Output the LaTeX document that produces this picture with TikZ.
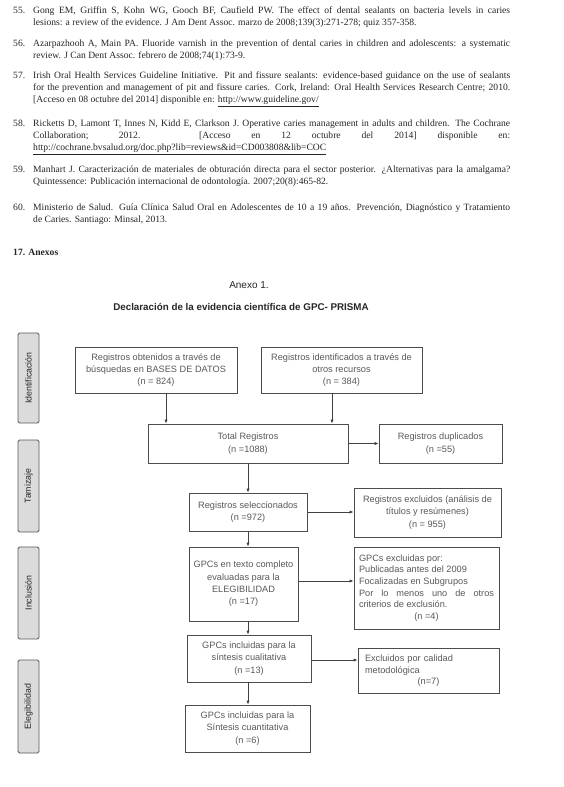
\documentclass[tikz,border=0pt]{standalone}
\usepackage{fontspec}
\setmainfont{Liberation Serif}
\setsansfont{Liberation Sans}
\usetikzlibrary{arrows.meta,calc}
\begin{document}
\begin{tikzpicture}[x=1pt,y=-1pt,
  refnum/.style={anchor=base west, inner sep=0pt, font=\fontsize{9.6}{12.3}\selectfont, text=black!85},
  reftext/.style={anchor=base west, inner sep=0pt, text width=477pt, align=justify, font=\fontsize{9.6}{12.3}\selectfont, text=black!85},
  box/.style={draw=black!70, line width=0.8pt, align=center, font=\sffamily\fontsize{9.2}{12.3}\selectfont, text=black!65, inner sep=2pt},
  side/.style={draw=black!65, fill=black!14, rounded corners=1.5pt, line width=0.8pt, minimum height=21pt, rotate=90, font=\sffamily\fontsize{8.8}{9}\selectfont, text=black!85},
  arr/.style={draw=black!75, line width=0.7pt, -{Latex[length=4pt,width=3.2pt]}},
  ttl/.style={font=\sffamily\fontsize{10}{12}\selectfont, text=black!85, inner sep=0pt},
]
\useasboundingbox[fill=white] (0,0) rectangle (564,787);

% references
\node[refnum] (n55) at (13,13.3) {55.};
\node[reftext] (r55) at (33,13.3) {Gong EM, Griffin S, Kohn WG, Gooch BF, Caufield PW. The effect of dental sealants on bacteria levels in caries\linebreak{} lesions: a review of the evidence. J Am Dent Assoc. marzo de 2008;139(3):271-278; quiz 357-358.};
\node[refnum] (n56) at (13,46.3) {56.};
\node[reftext] (r56) at (33,46.3) {Azarpazhooh A, Main PA. Fluoride varnish in the prevention of dental caries in children and adolescents: a systematic\linebreak{} review. J Can Dent Assoc. febrero de 2008;74(1):73-9.};
\node[refnum] (n57) at (13,78.3) {57.};
\node[reftext] (r57) at (33,78.3) {Irish Oral Health Services Guideline Initiative. Pit and fissure sealants: evidence-based guidance on the use of sealants\linebreak{} for the prevention and management of pit and fissure caries. Cork, Ireland: Oral Health Services Research Centre; 2010.\linebreak{} {[Acceso en 08 octubre del 2014]} disponible en: \underline{http://www.guideline.gov/}};
\node[refnum] (n58) at (13,126.3) {58.};
\node[reftext] (r58) at (33,126.3) {Ricketts D, Lamont T, Innes N, Kidd E, Clarkson J. Operative caries management in adults and children. The Cochrane\linebreak{} Collaboration; 2012. {[Acceso en 12 octubre del 2014]} disponible en:\linebreak{} \underline{http://cochrane.bvsalud.org/doc.php?lib=reviews\&id=CD003808\&lib=COC}};
\node[refnum] (n59) at (13,172.3) {59.};
\node[reftext] (r59) at (33,172.3) {Manhart J. Caracterización de materiales de obturación directa para el sector posterior. ¿Alternativas para la amalgama?\linebreak{} Quintessence: Publicación internacional de odontología. 2007;20(8):465-82.};
\node[refnum] (n60) at (13,210.3) {60.};
\node[reftext] (r60) at (33,210.3) {Ministerio de Salud. Guía Clínica Salud Oral en Adolescentes de 10 a 19 años. Prevención, Diagnóstico y Tratamiento\linebreak{} de Caries. Santiago: Minsal, 2013.};
\node[refnum, font=\bfseries\fontsize{9.6}{12.3}\selectfont] (anx) at (13,255.3) {17. Anexos};

% titles
\node[ttl] (t1) at (249,285) {Anexo 1.};
\node[ttl, font=\sffamily\bfseries\fontsize{9.8}{12}\selectfont] (t2) at (241,307) {Declaración de la evidencia científica de GPC- PRISMA};

% side labels
\node[side, minimum width=90pt] (s1) at (28.5,378) {Identificación};
\node[side, minimum width=92pt] (s2) at (28.5,486) {Tamizaje};
\node[side, minimum width=92pt] (s3) at (28.5,593) {Inclusión};
\node[side, minimum width=93pt] (s4) at (28.5,706.5) {Elegibilidad};

% boxes
\node[box, minimum width=162pt, minimum height=46pt] (a) at (156,370) {Registros obtenidos a través de\\ búsquedas en BASES DE DATOS\\ (n = 824)};
\node[box, minimum width=161pt, minimum height=46pt] (b) at (341.5,370) {Registros identificados a través de\\ otros recursos\\ (n = 384)};
\node[box, minimum width=200pt, minimum height=39pt] (tot) at (248,443.5) {Total Registros\\ (n =1088)};
\node[box, minimum width=123pt, minimum height=39pt] (dup) at (440.5,443.5) {Registros duplicados\\ (n =55)};
\node[box, minimum width=118pt, minimum height=38pt] (sel) at (248,512) {Registros seleccionados\\ (n =972)};
\node[box, minimum width=147pt, minimum height=49pt] (ex1) at (427.5,512.5) {Registros excluidos (análisis de\\ títulos y resúmenes)\\ (n = 955)};
\node[box, minimum width=109pt, minimum height=74pt] (eli) at (243.5,584) {GPCs en texto completo\\ evaluadas para la\\ ELEGIBILIDAD\\ (n =17)};
\node[box, minimum width=145pt, minimum height=82pt, text width=135pt, align=justify, inner sep=5pt, font=\sffamily\fontsize{9.2}{11.6}\selectfont] (ex2) at (426.5,588) {GPCs excluidas por:\\ Publicadas antes del 2009\\ Focalizadas en Subgrupos\\ Por lo menos uno de otros\linebreak{} criterios de exclusión.\\ \mbox{}\hfill(n =4)\hfill\mbox{}};
\node[box, minimum width=124pt, minimum height=47pt] (cua) at (249,658.5) {GPCs incluidas para la\\ síntesis cualitativa\\ (n =13)};
\node[box, minimum width=141pt, minimum height=42pt, text width=127pt, align=left, inner sep=7pt, font=\sffamily\fontsize{9.2}{11.6}\selectfont] (ex3) at (428.5,671) {Excluidos por calidad\\ metodológica\\ \mbox{}\hfill(n=7)\hfill\mbox{}};
\node[box, minimum width=125pt, minimum height=47pt] (fin) at (247.5,728.5) {GPCs incluidas para la\\ Síntesis cuantitativa\\ (n =6)};

% connectors
\draw[arr] ([xshift=10pt]a.south) -- ([xshift=10pt]a.south |- tot.north);
\draw[arr] ([xshift=-9.5pt]b.south) -- ([xshift=-9.5pt]b.south |- tot.north);
\draw[arr] (tot.east) -- (dup.west);
\draw[arr] (tot.south) -- (sel.north);
\draw[arr] (sel.east) -- (sel.east -| ex1.west);
\draw[arr] (sel.south) -- (sel.south |- eli.north);
\draw[arr] ([yshift=3pt]eli.east) -- ([yshift=3pt]eli.east -| ex2.west);
\draw[arr] (sel.south |- eli.south) -- (sel.south |- cua.north);
\draw[arr] ([yshift=-1.5pt]cua.east) -- ([yshift=-1.5pt]cua.east -| ex3.west);
\draw[arr] (sel.south |- cua.south) -- (sel.south |- fin.north);
\end{tikzpicture}
\end{document}
